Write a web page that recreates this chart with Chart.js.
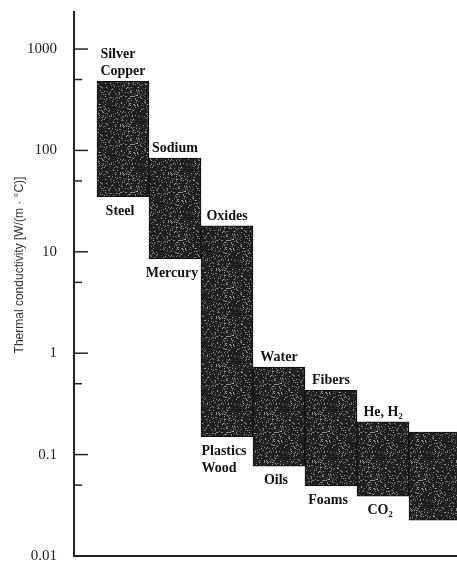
<!DOCTYPE html>
<html>
<head>
<meta charset="utf-8">
<script src="https://cdn.jsdelivr.net/npm/chart.js"></script>
<style>
  html, body { margin: 0; padding: 0; background: #fff; }
  #wrap { width: 457px; height: 565px; }
</style>
</head>
<body>
<div id="wrap"><canvas id="myChart"></canvas></div>
<script>
// values (W/(m.°C))
const positions = [1, 2, 3, 4, 5, 6, 7];
const highValues = [480, 84, 18, 0.73, 0.43, 0.21, 0.167];
const lowValues = [35, 8.5, 0.15, 0.077, 0.049, 0.039, 0.0226];
const topLabels = [['Silver', 'Copper'], ['Sodium'], ['Oxides'], ['Water'], ['Fibers'], ['He, H₂'], []];
const bottomLabels = [['Steel'], ['Mercury'], ['Plastics', 'Wood'], ['Oils'], ['Foams'], ['CO₂'], []];
const yTickValues = [0.01, 0.1, 1, 10, 100, 1000];
const yTickLabels = ['0.01', '0.1', '1', '10', '100', '1000'];
const yMinorTicks = [0.05, 0.5, 5, 50, 500];
const yTitle = 'Thermal conductivity [W/(m · °C)]';

// dark speckled fill like the printed blocks
function makeTexture() {
  const c = document.createElement('canvas');
  c.width = 48; c.height = 48;
  const g = c.getContext('2d');
  g.fillStyle = '#1f1f1f';
  g.fillRect(0, 0, 48, 48);
  let seed = 7;
  const next = () => { seed = (seed * 16807) % 2147483647; return seed / 2147483647; };
  for (let i = 0; i < 480; i++) {
    const v = Math.floor(55 + next() * 110);
    g.fillStyle = `rgb(${v},${v},${v})`;
    g.fillRect(Math.floor(next() * 48), Math.floor(next() * 48), 1, 1);
  }
  return g.createPattern(c, 'repeat');
}

const tickMarks = {
  id: 'tickMarks',
  afterDraw(chart) {
    const ctx = chart.ctx;
    const y = chart.scales.y;
    const left = chart.chartArea.left;
    ctx.save();
    ctx.strokeStyle = '#222';
    ctx.lineWidth = 1.5;
    yTickValues.forEach(v => {
      const p = y.getPixelForValue(v);
      ctx.beginPath(); ctx.moveTo(left, p); ctx.lineTo(left + 14, p); ctx.stroke();
    });
    yMinorTicks.forEach(v => {
      const p = y.getPixelForValue(v);
      ctx.beginPath(); ctx.moveTo(left, p); ctx.lineTo(left + 8, p); ctx.stroke();
    });
    // axis title
    ctx.translate(20, 265);
    ctx.rotate(-Math.PI / 2);
    ctx.fillStyle = '#333';
    ctx.font = '12px "Liberation Sans", Arial, sans-serif';
    ctx.textAlign = 'center';
    ctx.textBaseline = 'middle';
    ctx.fillText(yTitle, 0, 0);
    ctx.restore();
  }
};

const barLabels = {
  id: 'barLabels',
  afterDatasetsDraw(chart) {
    const ctx = chart.ctx;
    const meta = chart.getDatasetMeta(0);
    ctx.save();
    ctx.fillStyle = '#111';
    ctx.font = 'bold 14px "Liberation Serif", "Times New Roman", serif';
    ctx.textBaseline = 'alphabetic';
    ctx.textAlign = 'left';
    meta.data.forEach((el, i) => {
      const top = Math.min(el.y, el.base);
      const bottom = Math.max(el.y, el.base);
      const t = topLabels[i];
      if (t.length) {
        const w = Math.max(...t.map(s => ctx.measureText(s).width));
        const x0 = el.x - w / 2;
        t.forEach((s, k) => ctx.fillText(s, x0, top - 6 - (t.length - 1 - k) * 17));
      }
      const b = bottomLabels[i];
      if (b.length) {
        const w = Math.max(...b.map(s => ctx.measureText(s).width));
        const x0 = el.x - w / 2 - 3;
        b.forEach((s, k) => ctx.fillText(s, x0, bottom + 18 + k * 17));
      }
    });
    ctx.restore();
  }
};

const data = {
  datasets: [{
    data: positions.map((x, i) => ({ x: x, y: [lowValues[i], highValues[i]] })),
    backgroundColor: makeTexture(),
    borderColor: '#0d0d0d',
    borderWidth: 1,
    borderSkipped: false,
    barPercentage: 1,
    categoryPercentage: 1
  }]
};

const config = {
  type: 'bar',
  data: data,
  options: {
    responsive: true,
    maintainAspectRatio: false,
    animation: false,
    layout: { padding: { top: 12, left: 0, right: 0, bottom: 0 } },
    plugins: { legend: { display: false }, tooltip: { enabled: false } },
    scales: {
      x: {
        type: 'linear',
        min: 0.058,
        max: 7.423,
        offset: false,
        grid: { display: false, offset: false },
        ticks: { display: false },
        border: { display: true, color: '#222', width: 2 },
        afterFit: s => { s.height = 9; s.paddingLeft = 0; s.paddingRight = 0; }
      },
      y: {
        type: 'logarithmic',
        min: 0.01,
        max: 2318,
        grid: { display: false },
        border: { display: true, color: '#222', width: 2 },
        afterBuildTicks: s => { s.ticks = yTickValues.map(v => ({ value: v })); },
        afterFit: s => { s.width = 74; s.paddingTop = 0; s.paddingBottom = 0; },
        ticks: {
          autoSkip: false,
          padding: 9,
          color: '#222',
          font: { family: '"Liberation Serif", "Times New Roman", serif', size: 15 },
          callback: (v, i) => yTickLabels[i]
        }
      }
    }
  },
  plugins: [tickMarks, barLabels]
};

const myChart = new Chart(document.getElementById('myChart'), config);
</script>
</body>
</html>
